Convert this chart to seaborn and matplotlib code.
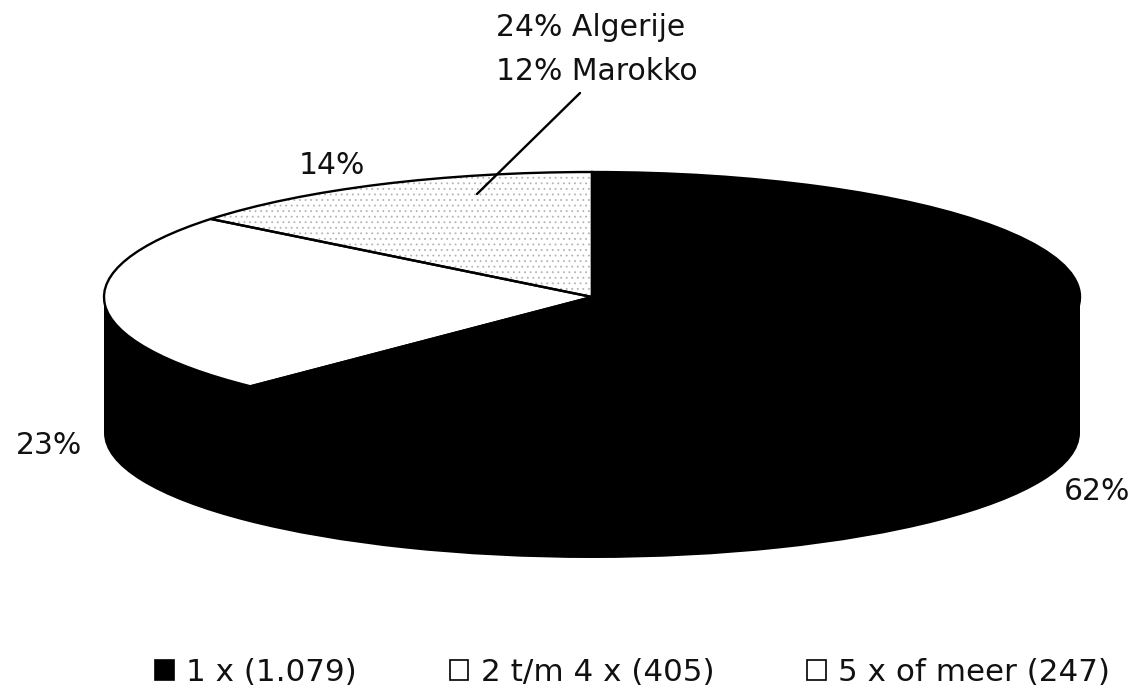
#Taartdiagram in 3D-stijl: aantal keer, met verdeling Algerije/Marokko bij de kleinste groep
import matplotlib
matplotlib.use("Agg")
import matplotlib.pyplot as plt
from matplotlib.lines import Line2D
from matplotlib.patches import Patch
import seaborn as sns

#Data uit de figuur
categorieen = ["5 x of meer (247)", "2 t/m 4 x (405)", "1 x (1.079)"]
aantallen = [247, 405, 1079]
kleuren = ["white", "white", "black"]
percentages = ["14%", "23%", "62%"]
toelichting = ["24% Algerije", "12% Marokko"]

sns.set_theme(style="white")
plt.rcParams["font.family"] = ["DejaVu Sans"]
plt.rcParams["hatch.linewidth"] = 0.6

B, H = 1139, 688
fig = plt.figure(figsize=(B / 100, H / 100), dpi=100, facecolor="white")
ax = fig.add_axes([0, 0, 1, 1])

#Pixels van de figuur naar figuurcoordinaten
def fx(x):
    return x / B

def fy(y):
    return 1 - y / H

#Ellips van de bovenkant: middelpunt (592, 297), stralen 488 en 125 pixels
rx, ry = 488, 125
diepte = 136 / ry

#Onderkant en wand
ax.pie([1], colors=["black"], center=(0, -diepte), wedgeprops={"linewidth": 0})
ax.fill_between([-1, 1], -diepte, 0, color="black", linewidth=0)

#Bovenkant met stippels in de kleinste groep, daarna de omlijning
ax.pie(aantallen, colors=kleuren, startangle=90, hatch=["...", None, None],
       wedgeprops={"linewidth": 0, "edgecolor": "#b4b4b4"})
ax.pie(aantallen, colors=["none"] * 3, startangle=90,
       wedgeprops={"linewidth": 1.7, "edgecolor": "black"})

ax.set_aspect("auto")
ax.set_xlim(-592 / rx, (B - 592) / rx)
ax.set_ylim(-(H - 297) / ry, 297 / ry)

#Labels
stijl = {"fontsize": 21.5, "color": "#111111", "ha": "center", "va": "center"}
fig.text(fx(332), fy(165), percentages[0], **stijl)
fig.text(fx(49), fy(446), percentages[1], **stijl)
fig.text(fx(1097), fy(492), percentages[2], **stijl)
fig.text(fx(591), fy(28), toelichting[0], **stijl)
fig.text(fx(597), fy(71), toelichting[1], **stijl)

#Verbindingslijn naar de stippels
fig.add_artist(Line2D([fx(580), fx(477)], [fy(93), fy(194)], color="black", linewidth=1.7))

#Legenda in de volgorde van het origineel
handles = [Patch(facecolor=k, edgecolor="black", linewidth=1.2) for k in kleuren[::-1]]
fig.legend(handles, categorieen[::-1], ncol=3, frameon=False, fontsize=22.3,
           loc="lower left", bbox_to_anchor=(fx(155), fy(687)), borderpad=0,
           borderaxespad=0, handlelength=0.6, handleheight=0.6, handletextpad=0.4,
           columnspacing=3.0, labelcolor="#111111")

fig.savefig("out.png", dpi=100, facecolor="white")
